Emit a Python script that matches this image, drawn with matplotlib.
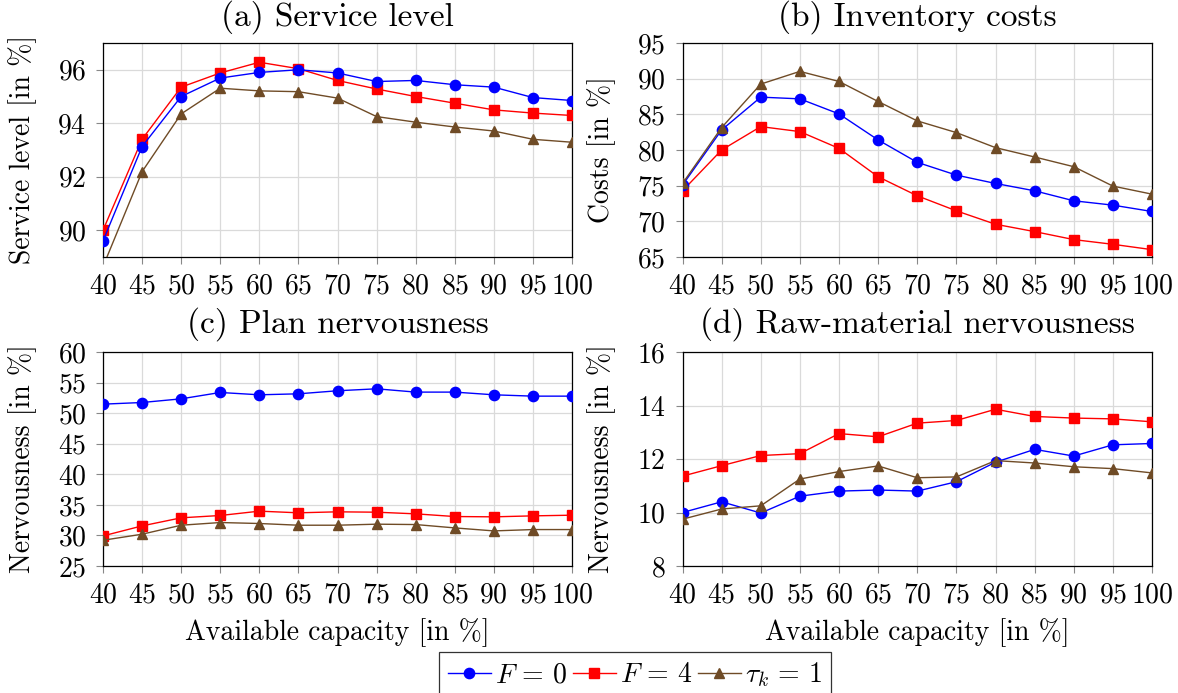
import matplotlib
matplotlib.use("Agg")
import matplotlib.pyplot as plt

plt.rcParams['font.family'] = ['cmr10', 'DejaVu Serif']
plt.rcParams['mathtext.fontset'] = 'cm'
plt.rcParams['axes.formatter.use_mathtext'] = True
plt.rcParams['font.size'] = 20

# Available capacity in percent (shared x values)
capacity = [40, 45, 50, 55, 60, 65, 70, 75, 80, 85, 90, 95, 100]

# (a) service level
service_f0 = [89.6, 93.13, 95.0, 95.69, 95.9, 96.0, 95.88, 95.56, 95.6, 95.44, 95.35, 94.96, 94.85]
service_f4 = [90.0, 93.4, 95.35, 95.88, 96.28, 96.04, 95.6, 95.28, 95.0, 94.75, 94.5, 94.38, 94.29]
service_tau = [88.64, 92.19, 94.35, 95.31, 95.21, 95.18, 94.94, 94.25, 94.04, 93.86, 93.71, 93.4, 93.29]

# (b) inventory costs
costs_f0 = [75.08, 82.81, 87.41, 87.17, 85.06, 81.41, 78.27, 76.48, 75.31, 74.28, 72.88, 72.27, 71.38]
costs_f4 = [74.28, 80.0, 83.28, 82.58, 80.23, 76.25, 73.58, 71.47, 69.59, 68.56, 67.44, 66.78, 66.03]
costs_tau = [75.31, 83.14, 89.24, 91.02, 89.61, 86.8, 84.08, 82.44, 80.33, 79.02, 77.66, 74.94, 73.81]

# (c) plan nervousness
plan_f0 = [51.47, 51.74, 52.34, 53.38, 53.0, 53.16, 53.66, 53.98, 53.44, 53.44, 53.0, 52.78, 52.78]
plan_f4 = [29.92, 31.56, 32.88, 33.26, 33.97, 33.7, 33.86, 33.8, 33.53, 33.09, 33.04, 33.2, 33.31]
plan_tau = [29.21, 30.2, 31.67, 32.11, 31.95, 31.67, 31.67, 31.84, 31.78, 31.23, 30.74, 30.96, 30.96]

# (d) raw-material nervousness
raw_f0 = [10.0, 10.4, 9.98, 10.61, 10.8, 10.84, 10.8, 11.15, 11.88, 12.36, 12.11, 12.53, 12.58]
raw_f4 = [11.36, 11.75, 12.13, 12.2, 12.95, 12.83, 13.34, 13.44, 13.86, 13.59, 13.53, 13.5, 13.39]
raw_tau = [9.75, 10.13, 10.25, 11.25, 11.53, 11.74, 11.3, 11.33, 11.94, 11.85, 11.71, 11.64, 11.48]

series_labels = [r'$F\,=\,0$', r'$F\,=\,4$', r'$\tau_k\,=\,1$']
titles = ['(a) Service level', '(b) Inventory costs',
          '(c) Plan nervousness', '(d) Raw-material nervousness']
ylabels = ['Service level [in %]', 'Costs [in %]',
           'Nervousness [in %]', 'Nervousness [in %]']
yticks = [[90, 92, 94, 96],
          [65, 70, 75, 80, 85, 90, 95],
          [25, 30, 35, 40, 45, 50, 55, 60],
          [8, 10, 12, 14, 16]]
ylims = [(89, 97), (65, 95), (25, 60), (8, 16)]
panels = [(service_f0, service_f4, service_tau),
          (costs_f0, costs_f4, costs_tau),
          (plan_f0, plan_f4, plan_tau),
          (raw_f0, raw_f4, raw_tau)]

colors = ['#0000ff', '#ff0000', '#6f4b26']
markers = ['o', 's', '^']
msizes = [7.4, 7.4, 7.0]

W, H = 1178, 693
fig = plt.figure(figsize=(W / 100, H / 100), dpi=100)

# axes boxes in pixels: left, top, right, bottom
boxes = [(103, 43, 572, 257), (682.5, 43, 1152, 257),
         (103, 352, 572, 566), (682.5, 352, 1152, 566)]

handles = []
for i, (l, t, r, b) in enumerate(boxes):
    ax = fig.add_axes([l / W, 1 - b / H, (r - l) / W, (b - t) / H])
    for k, ys in enumerate(panels[i]):
        h, = ax.plot(capacity, ys, color=colors[k], marker=markers[k],
                     markersize=msizes[k], lw=1.0, label=series_labels[k],
                     zorder=5 if k == 0 else 3 + k)
        if i == 0:
            handles.append(h)
    ax.set_xlim(40, 100)
    ax.set_xticks(capacity)
    ax.set_ylim(*ylims[i])
    ax.set_yticks(yticks[i])
    ax.grid(True, color='#dadada', lw=0.9)
    ax.set_axisbelow(True)
    for s in ax.spines.values():
        s.set_linewidth(0.9)
    ax.tick_params(direction='out', length=5, width=0.8, color='#888888', pad=7)
    ax.set_title(titles[i], pad=12.5 if i < 2 else 14)
    ax.set_ylabel(ylabels[i])
    ax.yaxis.set_label_coords(-66 / (r - l), 0.5)
    if i >= 2:
        ax.set_xlabel('Available capacity [in %]')
        ax.xaxis.set_label_coords(0.5, -52 / (b - t))

fig.legend(handles=handles, loc='upper center', ncol=3,
           bbox_to_anchor=(635 / W, 1 - 652 / H), frameon=True, fancybox=False,
           edgecolor='black', handlelength=1.55, handletextpad=0.15,
           columnspacing=0.2, borderpad=0.3, borderaxespad=0)
fig.legends[0].get_frame().set_linewidth(0.9)

fig.savefig('out.png', dpi=100)
